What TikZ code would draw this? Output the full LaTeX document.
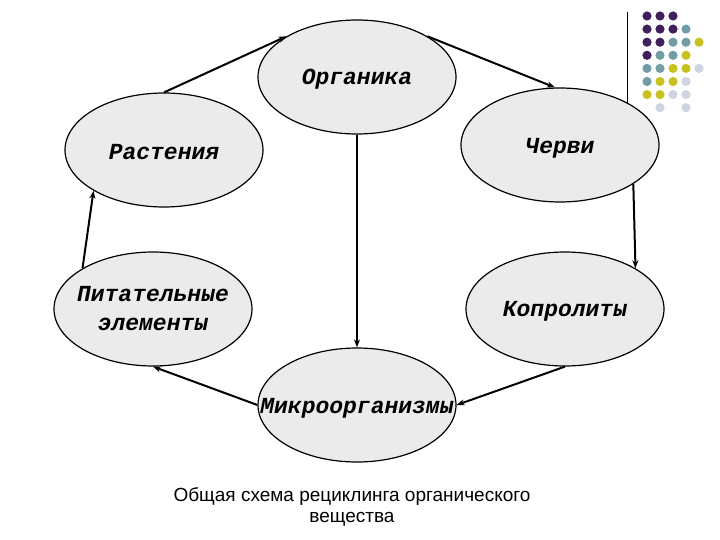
\documentclass[tikz,border=0pt]{standalone}
\usepackage{fontspec}
\usetikzlibrary{shapes.geometric,arrows.meta}
\newfontfamily\courfont{Liberation Mono}
\newfontfamily\arialfont{Liberation Sans}
\definecolor{dotpurple}{RGB}{64,32,92}
\definecolor{dotteal}{RGB}{112,158,164}
\definecolor{dotyellow}{RGB}{200,194,32}
\definecolor{dotgrey}{RGB}{208,212,226}
\tikzset{
  ovalbox/.style={ellipse, draw, line width=1.2pt, fill=black!8,
    minimum width=198pt, minimum height=114pt, inner sep=0pt},
  ovaltext/.style={align=center, inner sep=0pt,
    font={\courfont\bfseries\itshape\fontsize{23}{29}\selectfont}},
  flow/.style={line width=2pt, -{Stealth[length=8pt,width=6pt]}},
}
\begin{document}
\begin{tikzpicture}[x=1pt, y=-1pt]
\useasboundingbox (0,0) rectangle (720,540);

% Décor en haut à droite
\draw[line width=1pt] (627,12) -- (627,110);
\foreach \c/\r/\col in {
  0/0/dotpurple, 1/0/dotpurple, 2/0/dotpurple,
  0/1/dotpurple, 1/1/dotpurple, 2/1/dotpurple, 3/1/dotteal,
  0/2/dotpurple, 1/2/dotpurple, 2/2/dotteal, 3/2/dotteal, 4/2/dotyellow,
  0/3/dotpurple, 1/3/dotteal, 2/3/dotteal, 3/3/dotyellow,
  0/4/dotteal, 1/4/dotteal, 2/4/dotyellow, 3/4/dotyellow, 4/4/dotgrey,
  0/5/dotteal, 1/5/dotyellow, 2/5/dotyellow, 3/5/dotgrey,
  0/6/dotyellow, 1/6/dotyellow, 2/6/dotgrey, 3/6/dotgrey,
  1/7/dotgrey, 3/7/dotgrey}
  \fill[\col] (647+13*\c, 16+13.1*\r) circle (4.6);

% Ellipses
\node[ovalbox, label={[ovaltext, yshift=-2pt]center:Органика}] (organika) at (357,77) {};
\node[ovalbox, label={[ovaltext, yshift=-2pt]center:Растения}] (rasteniya) at (164,150) {};
\node[ovalbox, label={[ovaltext, yshift=-3pt]center:Черви}] (chervi) at (560,145) {};
\node[ovalbox, label={[ovaltext]center:{Питательные\\элементы}}] (pitat) at (153,309) {};
\node[ovalbox, label={[ovaltext, yshift=-2pt]center:Копролиты}] (koprolity) at (565,309) {};
\node[ovalbox, label={[ovaltext, yshift=-3pt]center:Микроорганизмы}] (mikro) at (357,405) {};

% Flèches du cycle
\draw[flow] (rasteniya.north) -- (organika.150);
\draw[flow] (organika.30) -- (chervi.95);
\draw[flow] (chervi.-28) -- (koprolity.30);
\draw[flow] (koprolity.south) -- (mikro.east);
\draw[flow] (mikro.west) -- (pitat.south);
\draw[flow] (pitat.150) -- (rasteniya.210);
\draw[flow] (organika.south) -- (mikro.north);

% Légende
\node[align=center, font={\arialfont\fontsize{19}{21}\selectfont}] (legende) at (352,507)
  {Общая схема рециклинга органического\\вещества};

\end{tikzpicture}
\end{document}
